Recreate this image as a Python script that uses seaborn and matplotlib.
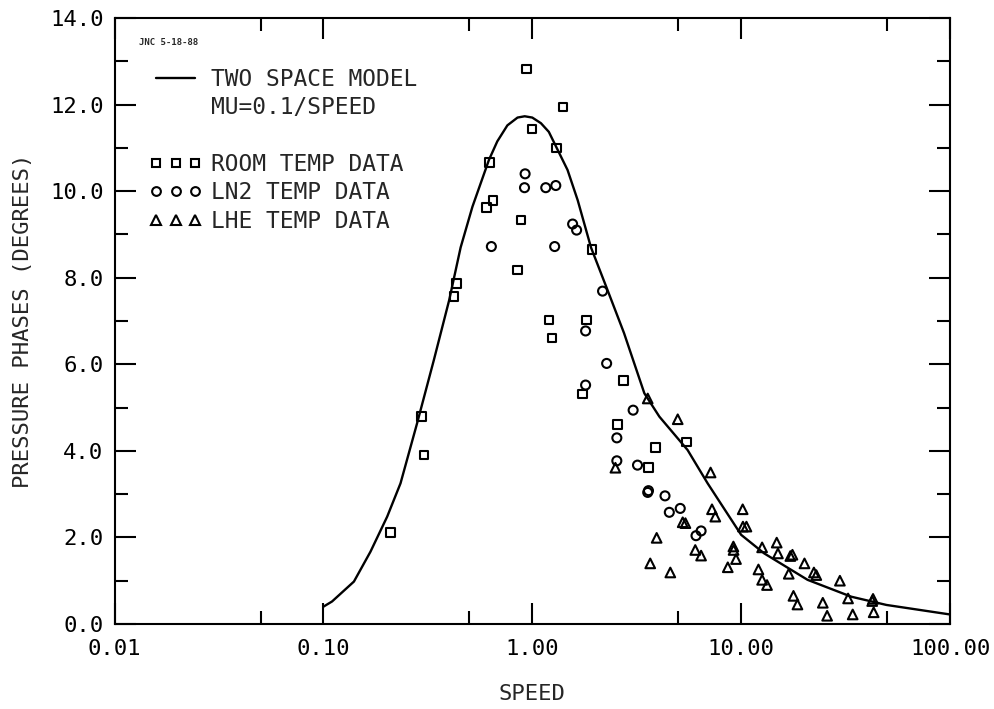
import numpy as np
import pandas as pd
import matplotlib
matplotlib.use("Agg")
import matplotlib.pyplot as plt
import seaborn as sns
from matplotlib.lines import Line2D
from matplotlib.ticker import FixedLocator, FixedFormatter, NullFormatter

# ---------------- data ----------------
model_speed = [0.100, 0.110, 0.140, 0.168, 0.202, 0.234, 0.281, 0.338, 0.400, 0.454,
               0.517, 0.620, 0.680, 0.760, 0.850, 0.920, 1.00, 1.10, 1.20, 1.475,
               1.65, 1.91, 2.29, 2.75, 3.44, 4.06, 5.54, 6.91, 10.0, 12.9,
               20.8, 33.7, 49.6, 100.0]
model_phase = [0.40, 0.52, 0.98, 1.67, 2.48, 3.25, 4.64, 6.10, 7.48, 8.70,
               9.64, 10.72, 11.15, 11.52, 11.70, 11.73, 11.70, 11.57, 11.37, 10.49,
               9.79, 8.70, 7.72, 6.72, 5.33, 4.79, 4.02, 3.25, 2.06, 1.63,
               1.02, 0.63, 0.44, 0.22]

room_speed = [0.209, 0.294, 0.303, 0.434, 0.422, 0.603, 0.649, 0.623, 0.849, 0.884,
              0.938, 0.995, 1.31, 1.405, 1.93, 1.204, 1.24, 1.82, 1.74, 2.74,
              2.56, 3.88, 5.49, 3.61]
room_phase = [2.12, 4.80, 3.90, 7.87, 7.56, 9.62, 9.78, 10.66, 8.18, 9.33,
              12.82, 11.44, 11.0, 11.94, 8.65, 7.02, 6.61, 7.02, 5.31, 5.62,
              4.61, 4.08, 4.20, 3.62]

ln2_speed = [0.637, 0.924, 0.918, 1.16, 1.296, 1.28, 1.56, 1.63, 2.17, 1.80,
             2.27, 1.80, 3.04, 2.54, 2.54, 3.19, 3.57, 3.60, 4.32, 5.11,
             4.53, 6.43, 6.08]
ln2_phase = [8.72, 10.40, 10.08, 10.08, 10.13, 8.72, 9.24, 9.10, 7.69, 6.77,
             6.02, 5.52, 4.94, 4.30, 3.77, 3.67, 3.04, 3.08, 2.96, 2.67,
             2.58, 2.15, 2.04]

lhe_speed = [2.50, 3.57, 4.97, 7.14, 7.25, 7.52, 10.17, 10.2, 10.6, 5.25,
             5.41, 3.94, 6.03, 6.43, 9.18, 9.2, 9.45, 8.63, 3.67, 4.58,
             12.6, 14.8, 15.0, 17.2, 17.6, 20.1, 22.3, 22.9, 16.9, 12.1,
             12.6, 13.3, 17.8, 18.6, 29.7, 24.6, 25.8, 32.5, 34.2, 42.4,
             43.1, 42.8]
lhe_phase = [3.61, 5.21, 4.73, 3.50, 2.65, 2.48, 2.65, 2.25, 2.25, 2.35,
             2.33, 1.99, 1.71, 1.58, 1.79, 1.71, 1.50, 1.31, 1.40, 1.19,
             1.77, 1.88, 1.63, 1.57, 1.60, 1.40, 1.19, 1.13, 1.16, 1.26,
             1.02, 0.90, 0.65, 0.45, 1.00, 0.49, 0.19, 0.59, 0.22, 0.53,
             0.27, 0.58]

x_major = [0.01, 0.1, 1.0, 10.0, 100.0]
x_major_labels = ["0.01", "0.10", "1.00", "10.00", "100.00"]
x_minor = [0.05, 0.5, 5.0, 50.0]
y_major = [0, 2, 4, 6, 8, 10, 12, 14]
y_major_labels = ["0.0", "2.0", "4.0", "6.0", "8.0", "10.0", "12.0", "14.0"]
y_minor = [1, 3, 5, 7, 9, 11, 13]

legend_labels = ["TWO SPACE MODEL", "MU=0.1/SPEED", "",
                 "ROOM TEMP DATA", "LN2 TEMP DATA", "LHE TEMP DATA"]
stamp = "JNC 5-18-88"

# ---------------- style ----------------
sns.set_style("ticks")
plt.rcParams["font.family"] = ["DejaVu Sans Mono", "DejaVu Sans"]
plt.rcParams["axes.edgecolor"] = "black"
plt.rcParams["axes.linewidth"] = 1.5

fig = plt.figure(figsize=(9.95, 7.09), dpi=100)
ax = fig.add_axes([0.1151, 0.1199, 0.8397, 0.8547])

sns.lineplot(x=model_speed, y=model_phase, color="black", lw=1.7,
             sort=False, estimator=None, ax=ax)

mk = dict(color="black", facecolor="none", edgecolor="black", linewidths=1.5)
sns.scatterplot(x=room_speed, y=room_phase, marker="s", s=38, ax=ax, **mk)
sns.scatterplot(x=ln2_speed, y=ln2_phase, marker="o", s=42, ax=ax, **mk)
sns.scatterplot(x=lhe_speed, y=lhe_phase, marker="^", s=48, ax=ax, **mk)

ax.set_xscale("log")
ax.set_xlim(0.01, 100)
ax.set_ylim(0, 14)

ax.xaxis.set_major_locator(FixedLocator(x_major))
ax.xaxis.set_major_formatter(FixedFormatter(x_major_labels))
ax.xaxis.set_minor_locator(FixedLocator(x_minor))
ax.xaxis.set_minor_formatter(NullFormatter())
ax.yaxis.set_major_locator(FixedLocator(y_major))
ax.yaxis.set_major_formatter(FixedFormatter(y_major_labels))
ax.yaxis.set_minor_locator(FixedLocator(y_minor))
ax.yaxis.set_minor_formatter(NullFormatter())

ax.tick_params(which="both", direction="in", top=True, right=True,
               width=1.5, color="black", labelcolor="black")
ax.tick_params(which="major", length=15, labelsize=16)
ax.tick_params(which="minor", length=9.5)
ax.tick_params(axis="x", which="major", pad=11)
ax.tick_params(axis="y", which="major", pad=8)

for sp in ax.spines.values():
    sp.set_visible(True)
    sp.set_linewidth(1.5)
    sp.set_color("black")

ax.set_xlabel("SPEED", fontsize=16, labelpad=18)
ax.set_ylabel("PRESSURE PHASES (DEGREES)", fontsize=16, labelpad=12)

handles = [
    Line2D([], [], color="black", lw=1.7),
    Line2D([], [], linestyle="none", marker=None),
    Line2D([], [], linestyle="none", marker=None),
    Line2D([], [], linestyle="none", marker="s", markersize=6.3, mfc="none", mec="black", mew=1.5),
    Line2D([], [], linestyle="none", marker="o", markersize=6.3, mfc="none", mec="black", mew=1.5),
    Line2D([], [], linestyle="none", marker="^", markersize=6.8, mfc="none", mec="black", mew=1.5),
]
ax.legend(handles, legend_labels, loc="upper left", bbox_to_anchor=(0.042, 0.918),
          frameon=False, numpoints=3, handlelength=2.3, handletextpad=0.4,
          labelspacing=0.235, borderpad=0, borderaxespad=0, fontsize=16.5)

ax.text(0.029, 0.959, stamp, transform=ax.transAxes, fontsize=6.5,
        fontweight="bold", va="center", ha="left")

fig.savefig("out.png", dpi=100)
